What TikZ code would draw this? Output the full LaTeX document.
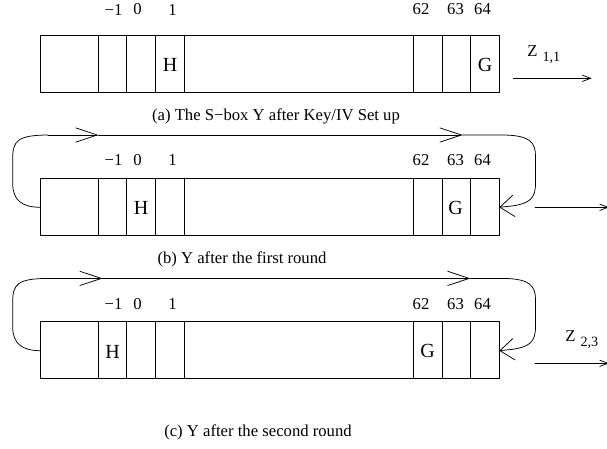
\documentclass[tikz,border=0pt]{standalone}
\usepackage{fontspec}
\setmainfont{Liberation Serif}
\usetikzlibrary{arrows.meta}

\tikzset{
  midbarb/.style={-{Straight Barb[length=13pt,width=8.6pt]}},
  inbarb/.style={-{Straight Barb[length=8.5pt,width=13pt]}},
  outbarb/.style={-{Straight Barb[length=5pt,width=3.8pt]}},
  idx/.style={inner sep=0pt,font=\fontsize{10}{12}\selectfont},
  letter/.style={inner sep=0pt,font=\fontsize{12}{14}\selectfont},
  captext/.style={inner sep=0pt,font=\fontsize{10}{12}\selectfont}
}

\begin{document}
\begin{tikzpicture}[line cap=round,line join=round,x=0.6pt,y=-0.6pt,line width=0.45pt]
\useasboundingbox (0,0) rectangle (607,448);
\foreach \r/\t/\ly/\hx/\gx in {a/35/9.5/170/485, b/178.3/160/141/455.5, c/321.7/304/112.5/427.7}{
  \draw (40.7,\t) rectangle (499.3,\t+57);
  \foreach \x in {98.5,126.8,155.6,184.2,413.4,442,470.7}
    \draw (\x,\t) -- (\x,\t+57);
  \foreach \lx/\lt/\ln in {113.5/−1/m,137.5/0/z,172.5/1/o,421/62/p,455.5/63/q,482.5/64/s}
    \node[idx] (l\ln\r) at (\lx,\ly) {\lt};
  \node[letter] (H\r) at (\hx,\t+30) {H};
  \node[letter] (G\r) at (\gx,\t+29.5) {G};
}
\node[captext] (capa) at (276,116.7) {(a) The S−box Y after Key/IV Set up};
\node[captext] (capb) at (242,259) {(b) Y after the first round};
\node[captext] (capc) at (258,432) {(c) Y after the second round};

\coordinate (za1) at (513.3,78.3);
\coordinate (za2) at (591.7,78.3);
\coordinate (zb1) at (535,207.3);
\coordinate (zb2) at (609,207.3);
\coordinate (zc1) at (535,363.3);
\coordinate (zc2) at (609,363.3);
\draw[outbarb] (za1) -- (za2);
\draw[outbarb] (zb1) -- (zb2);
\draw[outbarb] (zc1) -- (zc2);
\node[idx,anchor=west] (Za) at (527,55) {Z\kern3pt\raisebox{-3pt}{\fontsize{8.5}{10}\selectfont 1,1}};
\node[idx,anchor=west] (Zc) at (565,340) {Z\kern3pt\raisebox{-3pt}{\fontsize{8.5}{10}\selectfont 2,3}};

\foreach \r/\t/\ma/\mb in {b/178.3/98.5/462.6, c/321.7/102.6/470.4}{
  \coordinate (in\r) at (40.7,\t+29);
  \coordinate (back\r) at (499.3,\t+29);
  \coordinate (ta\r) at (48,\t-43.3);
  \coordinate (tb\r) at (503,\t-43.3);
  \coordinate (ma\r) at (\ma,\t-43.3);
  \coordinate (mb\r) at (\mb,\t-43.3);
  \draw (in\r) .. controls (22,\t+29) and (12.7,\t+22) .. (12.7,\t+5) -- (12.7,\t-20)
    .. controls (12.7,\t-38) and (18,\t-43) .. (ta\r);
  \draw[midbarb] (ta\r) -- (ma\r);
  \draw[midbarb] (ma\r) -- (mb\r);
  \draw[inbarb] (mb\r) -- (tb\r) .. controls (530,\t-43) and (535.5,\t-36) .. (535.5,\t-22)
    -- (535.5,\t+5) .. controls (535.5,\t+20) and (530,\t+25) .. (512,\t+27.7) -- (back\r);
}
\end{tikzpicture}
\end{document}
